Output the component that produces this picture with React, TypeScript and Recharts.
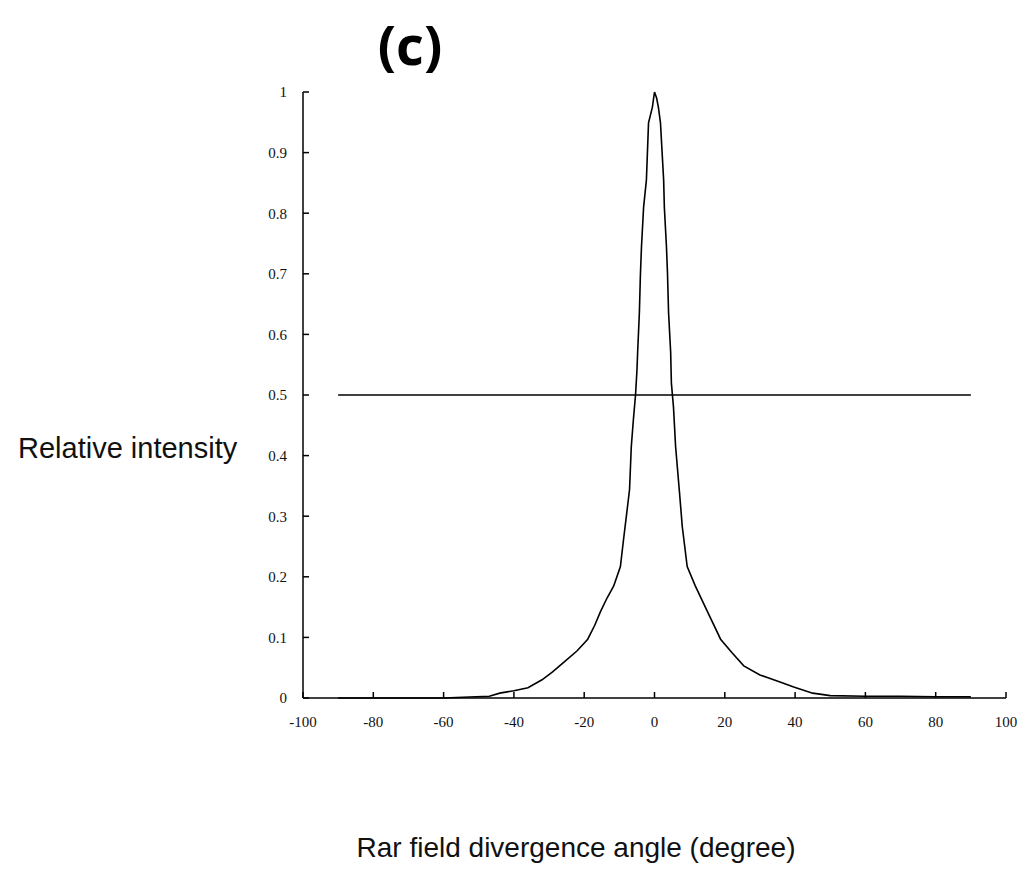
import React from 'react';
import { LineChart, Line, XAxis, YAxis } from 'recharts';

const angles = [
  -90, -60, -47, -44, -40, -36, -32, -29, -26, -22, -19, -17, -15.4, -13.5, -11.6, -9.7,
  -8.8, -7.8, -7.1, -6.6, -6.0, -5.4, -5.0, -4.8, -4.3, -4.0, -3.7, -3.1, -2.3, -1.7, -0.6,
  0, 0.6, 1.1, 1.7, 2.6, 2.8, 3.4, 3.7, 4.0, 4.6, 4.8, 5.4, 6.0, 7.1, 7.9, 9.3, 11.6,
  15.1, 18.8, 22, 25.4, 30, 35.9, 39.6, 45, 50, 60, 70, 80, 90,
];
const intensity = [
  0, 0, 0.003, 0.008, 0.012, 0.017, 0.03, 0.043, 0.058, 0.078, 0.097, 0.12, 0.142, 0.165, 0.185, 0.217,
  0.262, 0.31, 0.344, 0.415, 0.46, 0.5, 0.54, 0.57, 0.636, 0.7, 0.745, 0.81, 0.855, 0.949, 0.975,
  1.0, 0.99, 0.975, 0.949, 0.855, 0.81, 0.745, 0.7, 0.636, 0.57, 0.52, 0.48, 0.415, 0.34, 0.283, 0.217, 0.185,
  0.142, 0.097, 0.075, 0.053, 0.038, 0.026, 0.018, 0.008, 0.004, 0.003, 0.003, 0.002, 0.002,
];
const halfAngles = [-90, 90];
const halfValues = [0.5, 0.5];
const xTicks = [-100, -80, -60, -40, -20, 0, 20, 40, 60, 80, 100];
const yTicks = [0, 0.1, 0.2, 0.3, 0.4, 0.5, 0.6, 0.7, 0.8, 0.9, 1];

const curveData = angles.map((a, i) => ({ angle: a, value: intensity[i] }));
const halfData = halfAngles.map((a, i) => ({ angle: a, value: halfValues[i] }));

const tickFont = { fontFamily: '"Liberation Serif", "DejaVu Serif", serif', fontSize: 15, fill: '#111' };

export default function App() {
  return (
    <div style={{ position: 'fixed', left: 0, top: 0, width: 1022, height: 878, background: '#fff' }}>
      <LineChart
        width={1022}
        height={878}
        margin={{ top: 92, right: 16, bottom: 150, left: 243 }}
      >
        <XAxis
          dataKey="angle"
          type="number"
          domain={[-100, 100]}
          ticks={xTicks}
          allowDataOverflow
          tick={tickFont}
          tickSize={-6}
          tickMargin={24}
          stroke="#000"
          strokeWidth={1.5}
          height={30}
          tickFormatter={(v: number) => String(v)}
        />
        <YAxis
          type="number"
          domain={[0, 1]}
          ticks={yTicks}
          tick={tickFont}
          tickSize={-6}
          tickMargin={22}
          stroke="#000"
          strokeWidth={1.5}
          width={60}
          tickFormatter={(v: number) => String(v)}
        />
        <Line
          data={curveData}
          dataKey="value"
          type="linear"
          stroke="#000"
          strokeWidth={1.6}
          dot={false}
          isAnimationActive={false}
        />
        <Line
          data={halfData}
          dataKey="value"
          type="linear"
          stroke="#000"
          strokeWidth={1.6}
          dot={false}
          isAnimationActive={false}
        />
      </LineChart>
      <div
        style={{
          position: 'absolute', left: 360, top: 4, width: 100, textAlign: 'center',
          fontFamily: '"Open Sans", sans-serif', fontWeight: 700, fontSize: 54, lineHeight: '80px', color: '#000',
        }}
      >
        (c)
      </div>
      <div
        style={{
          position: 'absolute', left: 18, top: 432, whiteSpace: 'nowrap',
          fontFamily: '"Liberation Sans", Arial, sans-serif', fontSize: 29, color: '#111',
        }}
      >
        Relative intensity
      </div>
      <div
        style={{
          position: 'absolute', left: 276, top: 832, width: 600, textAlign: 'center', whiteSpace: 'nowrap',
          fontFamily: '"Liberation Sans", Arial, sans-serif', fontSize: 28, color: '#111',
        }}
      >
        Rar field divergence angle (degree)
      </div>
    </div>
  );
}
